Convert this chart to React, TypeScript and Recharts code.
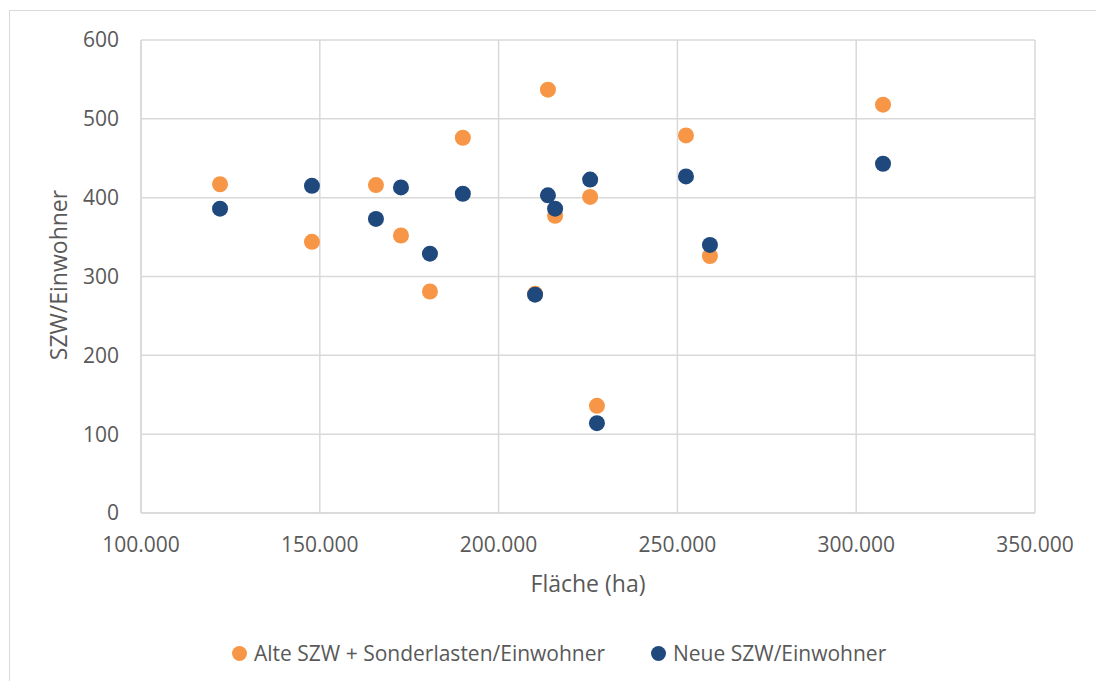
import React from 'react';
import { ScatterChart, Scatter, XAxis, YAxis, CartesianGrid, Legend } from 'recharts';

const flaeche = [122100, 147800, 165700, 172700, 180800, 190000, 210200, 213800, 215800, 225600, 227500, 252400, 259100, 307500];
const alteSzw = [417, 344, 416, 352, 281, 476, 278, 537, 377, 401, 136, 479, 326, 518];
const neueSzw = [386, 415, 373, 413, 329, 405, 277, 403, 386, 423, 114, 427, 340, 443];

const xTicks = [100000, 150000, 200000, 250000, 300000, 350000];
const yTicks = [0, 100, 200, 300, 400, 500, 600];

const ORANGE = '#F79646';
const BLUE = '#1F497D';
const TEXT = '#595959';
const GRID = '#d9d9d9';
const FONT = '"Open Sans", sans-serif';

const alteData = flaeche.map((x, i) => ({ x, y: alteSzw[i] }));
const neueData = flaeche.map((x, i) => ({ x, y: neueSzw[i] }));

const formatThousands = (v: number) => String(v).replace(/\B(?=(\d{3})+(?!\d))/g, '.');

const legendItems = [
  { name: 'Alte SZW + Sonderlasten/Einwohner', color: ORANGE },
  { name: 'Neue SZW/Einwohner', color: BLUE },
];

const renderLegend = () => (
  <div style={{ position: 'relative', height: 28, fontFamily: FONT, fontSize: 21, color: TEXT }}>
    {legendItems.map((item, i) => (
      <div key={item.name} style={{ position: 'absolute', left: i === 0 ? 232 : 651, top: 0, display: 'flex', alignItems: 'center', whiteSpace: 'nowrap' }}>
        <span style={{ width: 15, height: 15, borderRadius: 8, background: item.color, display: 'inline-block', marginRight: 7 }} />
        <span>{item.name}</span>
      </div>
    ))}
  </div>
);

export default function App() {
  return (
    <div style={{ position: 'fixed', left: 0, top: 0, width: 1096, height: 681, overflow: 'hidden', background: '#fff' }}>
      {/* chart frame */}
      <div style={{ position: 'absolute', left: 9, top: 10, width: 1200, height: 800, border: `1px solid ${GRID}` }} />
      <div style={{ position: 'absolute', left: 0, top: 0 }}>
        <ScatterChart width={1096} height={681} margin={{ top: 40, right: 61, bottom: 110, left: 81 }}>
          <CartesianGrid stroke={GRID} strokeWidth={1.5} />
          <XAxis
            type="number"
            dataKey="x"
            domain={[100000, 350000]}
            ticks={xTicks}
            tickFormatter={formatThousands}
            axisLine={{ stroke: GRID, strokeWidth: 1.5 }}
            tickLine={false}
            tickSize={0}
            tickMargin={24}
            height={30}
            tick={{ fill: TEXT, fontSize: 21, fontFamily: FONT }}
          />
          <YAxis
            type="number"
            dataKey="y"
            domain={[0, 600]}
            ticks={yTicks}
            axisLine={{ stroke: GRID, strokeWidth: 1.5 }}
            tickLine={false}
            tickSize={0}
            tickMargin={22}
            width={60}
            tick={{ fill: TEXT, fontSize: 21, fontFamily: FONT }}
          />
          <Legend verticalAlign="bottom" content={renderLegend} wrapperStyle={{ left: 0, width: 1096, bottom: 14 }} />
          <Scatter name="Alte SZW + Sonderlasten/Einwohner" data={alteData} fill={ORANGE} shape={(p: any) => <circle cx={p.cx} cy={p.cy} r={8} fill={ORANGE} />} isAnimationActive={false} />
          <Scatter name="Neue SZW/Einwohner" data={neueData} fill={BLUE} shape={(p: any) => <circle cx={p.cx} cy={p.cy} r={8} fill={BLUE} />} isAnimationActive={false} />
        </ScatterChart>
      </div>
      <div style={{ position: 'absolute', left: 0, top: 583, width: 1176, textAlign: 'center', transform: 'translateY(-50%)', fontFamily: FONT, fontSize: 23, color: TEXT }}>
        Fläche (ha)
      </div>
      <div style={{ position: 'absolute', left: 58, top: 275, transform: 'translate(-50%, -50%) rotate(-90deg)', whiteSpace: 'nowrap', fontFamily: FONT, fontSize: 23, color: TEXT }}>
        SZW/Einwohner
      </div>
    </div>
  );
}
